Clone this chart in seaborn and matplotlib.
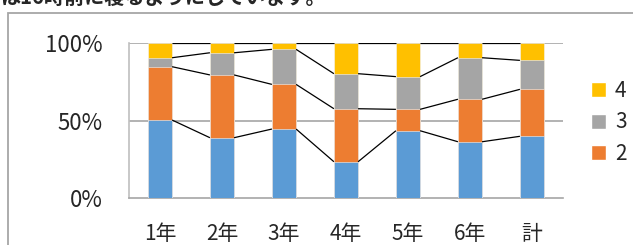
import numpy as np
import pandas as pd
import matplotlib
matplotlib.use("Agg")
import matplotlib.pyplot as plt
from matplotlib.patches import Patch, Rectangle
import seaborn as sns

# data (percent of each grade)
grades = ["1年", "2年", "3年", "4年", "5年", "6年", "計"]
s1 = [50.3, 38.9, 44.5, 23.4, 43.4, 36.3, 39.8]
s2 = [34.4, 40.5, 28.8, 34.2, 13.8, 27.4, 30.3]
s3 = [5.8, 14.3, 22.6, 22.6, 21.1, 26.8, 18.7]
s4 = [9.5, 6.3, 4.1, 19.8, 21.7, 9.5, 11.2]
series_names = ["1", "2", "3", "4"]

colors = ["#5B9BD5", "#ED7D31", "#A5A5A5", "#FFC000"]

sns.set_theme(style="white")
plt.rcParams["font.family"] = ["Noto Sans CJK JP", "DejaVu Sans"]

df = pd.DataFrame({"grade": grades, "1": s1, "2": s2, "3": s3, "4": s4})
cum = df[series_names].cumsum(axis=1)

fig = plt.figure(figsize=(6.33, 2.45), dpi=100)
ax = fig.add_axes([0.2038, 0.1918, 0.8894 - 0.2038, 0.8245 - 0.1918])

bar_w = 0.39
# draw cumulative totals from top series down so each layer shows its part
for name, col in reversed(list(zip(series_names, colors))):
    sns.barplot(x=df["grade"], y=cum[name], color=col, width=bar_w,
                saturation=1, ax=ax, edgecolor="#f4f4f4", linewidth=0.4, zorder=3)

# series lines between bars (Excel style)
for name in series_names:
    vals = cum[name].values
    for i in range(len(vals) - 1):
        ax.plot([i + bar_w / 2, i + 1 - bar_w / 2], [vals[i], vals[i + 1]],
                color="black", lw=0.9, zorder=4, solid_capstyle="butt")

ax.set_xlim(-0.5, len(grades) - 0.5)
ax.set_ylim(0, 100)
ax.set_yticks([0, 50, 100])
ax.set_yticklabels(["0%", "50%", "100%"])
for y in [50, 100]:
    ax.axhline(y, color="#A6A6A6", lw=1.2, zorder=1)

ax.set_xlabel("")
ax.set_ylabel("")
for side in ["top", "right"]:
    ax.spines[side].set_visible(False)
for side in ["left", "bottom"]:
    ax.spines[side].set_color("#BFBFBF")
    ax.spines[side].set_linewidth(1.2)
ax.spines["bottom"].set_color("#A6A6A6")

ax.set_xticks(np.arange(len(grades)))
ax.set_xticklabels(grades)
ax.set_xticks(np.arange(-0.5, len(grades), 1.0), minor=True)
ax.tick_params(axis="x", which="major", length=0, pad=18, labelsize=15)
ax.tick_params(axis="x", which="minor", direction="in", length=5,
               color="#A6A6A6", width=1.0)
ax.tick_params(axis="y", length=0, pad=19, labelsize=16)
ax.grid(False)

handles = [Patch(facecolor=colors[i], label=series_names[i]) for i in [3, 2, 1]]
fig.legend(handles=handles, loc="upper left", bbox_to_anchor=(0.933, 0.673),
           frameon=False, fontsize=15, handlelength=0.72, handleheight=0.72,
           handletextpad=0.45, labelspacing=0.45, borderaxespad=0, borderpad=0)

# chart frame and clipped caption from the page
fig.patches.append(Rectangle((8 / 633, -0.1), 1.2, 1 - 13 / 245 + 0.1,
                             transform=fig.transFigure, fill=False,
                             edgecolor="#A6A6A6", lw=1.3))
fig.text(0.0, 1 + 3 / 245, "は16時前に寝るようにしています。", fontsize=14.5,
         fontweight="bold", va="center", ha="left")

fig.savefig("out.png", dpi=100)
